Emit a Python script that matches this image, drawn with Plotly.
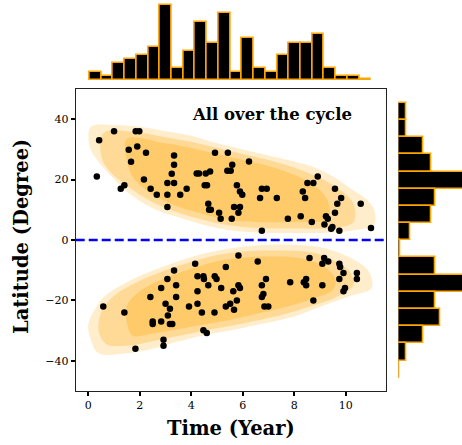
import numpy as np
import plotly.graph_objects as go

# ---- black events (time in years, latitude in degrees) ----
north_time = [1.00, 1.84, 1.98, 0.42, 1.90, 1.57, 2.24, 3.33, 1.66, 3.33, 4.92, 5.42, 5.59, 0.33,
              4.21, 4.30, 4.73, 4.56, 3.24, 5.40, 5.53, 2.16, 3.07, 3.33, 1.40, 1.26, 2.42, 4.52,
              4.61, 2.66, 3.07, 3.57, 3.82, 4.66, 4.69, 4.76, 3.07, 5.08, 5.14, 5.57,
              6.24, 8.91, 8.51, 8.74, 5.77, 5.89, 5.98, 6.74, 6.93, 9.58, 8.33, 8.42, 6.67, 7.32,
              9.82, 9.67, 10.58, 5.66, 5.89, 5.83, 9.58, 7.75, 8.25, 8.68, 9.23, 9.30, 9.17, 9.43,
              9.48, 9.75, 10.98, 6.74]
north_lat = [36.0, 36.0, 36.0, 33.0, 31.0, 29.9, 28.9, 28.0, 25.9, 24.9, 28.9, 28.9, 24.9, 21.0,
             22.0, 22.0, 22.7, 22.0, 21.9, 22.9, 22.9, 20.0, 18.9, 18.9, 18.1, 17.0, 17.0, 18.1,
             18.1, 15.0, 15.0, 15.0, 17.0, 12.0, 10.0, 10.0, 10.9, 9.0, 7.0, 7.0,
             26.0, 21.0, 18.9, 18.9, 18.1, 16.1, 15.0, 17.0, 17.0, 17.0, 16.1, 13.9, 13.9, 13.9,
             13.9, 12.0, 12.0, 10.9, 10.9, 9.0, 9.0, 7.0, 7.9, 6.0, 7.9, 7.0, 5.1, 3.7,
             4.3, 3.1, 4.0, 3.1]
south_time = [0.58, 1.40, 1.83, 3.33, 4.15, 5.34, 3.07, 4.24, 4.47, 4.49, 4.91, 4.98, 3.41, 4.66,
              2.83, 5.16, 4.24, 5.63, 2.41, 3.41, 4.24, 3.00, 5.34, 5.51, 3.91, 3.17, 5.66, 3.09,
              4.41, 4.90, 2.50, 2.50, 2.83, 3.17, 3.26, 4.47, 4.60, 2.92, 2.92,
              5.83, 6.58, 8.59, 9.16, 9.32, 9.09, 9.75, 9.78, 10.43, 10.43, 9.91, 9.75, 6.90, 8.46,
              8.37, 8.46, 7.84, 6.74, 5.83, 5.89, 9.09, 9.97, 9.91, 6.80, 6.74, 5.77, 8.74, 6.84,
              6.99]
south_lat = [-22.0, -24.0, -36.0, -10.1, -7.9, -8.9, -12.9, -12.0, -12.0, -12.9, -12.0, -12.9, -15.0, -15.0,
             -15.9, -15.9, -17.0, -17.0, -18.9, -18.9, -21.1, -21.1, -22.0, -21.1, -22.0, -22.8, -23.1, -25.0,
             -24.0, -24.0, -27.0, -27.8, -27.0, -27.8, -27.8, -29.9, -30.8, -33.0, -35.0,
             -5.1, -7.1, -6.0, -6.0, -7.1, -7.9, -7.9, -8.9, -10.9, -12.9, -10.9, -12.9, -12.9, -12.9,
             -14.0, -15.0, -14.0, -15.0, -15.0, -15.9, -15.0, -15.9, -17.0, -17.9, -18.9, -20.0, -20.0, -22.0,
             -22.0]

# ---- marginal histograms ----
time_counts = [2, 1, 4, 5, 6, 8, 18, 3, 7, 14, 9, 16, 2, 10, 3, 2, 6, 9, 9, 11, 3, 1, 1, 0.15]
time_bin_span = (0.053, 10.98)
lat_counts = [2, 2, 6, 8, 16, 9, 8, 3, 0.4, 9, 16, 9, 10, 6, 2, 0.3]   # from north to south
lat_bin_span = (45.4, -45.6)

# ---- background population envelopes (outer fringe, middle, dense core) ----
north_outer_t = [0.1, 1.0, 2.0, 3.0, 4.0, 5.0, 6.0, 7.0, 8.0, 8.8, 9.5, 10.2, 10.8, 11.1, 11.1,
                 10.5, 9.5, 8.0, 6.5, 5.5, 4.5, 3.5, 2.5, 1.5, 0.8, 0.3, 0.05]
north_outer_lat = [37.5, 38.0, 37.5, 36.0, 34.5, 32.0, 30.0, 28.0, 26.0, 24.0, 21.0, 17.0, 13.5, 10.0, 5.0,
                   3.5, 2.5, 2.3, 2.5, 3.2, 5.0, 7.5, 10.5, 16.0, 22.0, 27.0, 31.0]
north_mid_t = [0.6, 2.0, 3.0, 4.0, 5.0, 6.0, 7.0, 8.0, 9.0, 9.8, 10.3, 10.3,
               9.5, 8.0, 6.5, 5.5, 4.5, 3.5, 2.5, 1.5, 0.8, 0.5]
north_mid_lat = [35.5, 35.5, 34.0, 32.5, 30.5, 28.5, 26.5, 24.0, 20.5, 16.5, 12.0, 6.0,
                 4.0, 3.8, 4.0, 4.8, 6.5, 9.0, 12.5, 18.0, 23.0, 28.0]
north_core_t = [1.5, 3.0, 4.0, 5.0, 6.0, 7.0, 8.0, 8.8, 9.3, 9.3,
                8.0, 6.5, 5.5, 4.5, 3.5, 2.5, 1.8, 1.5]
north_core_lat = [33.5, 32.0, 30.5, 28.5, 26.5, 24.5, 21.5, 18.0, 13.0, 7.0,
                  6.0, 6.0, 6.5, 8.5, 11.0, 15.0, 20.0, 26.0]

south_outer_t = [0.0, 0.4, 0.8, 1.5, 2.1, 3.0, 3.5, 4.5, 5.5, 6.5, 8.0, 9.2, 10.2, 10.9, 11.0,
                 10.2, 9.2, 8.0, 6.6, 5.5, 4.5, 3.4, 2.5, 1.5, 0.4, 0.1]
south_outer_lat = [-28.0, -21.0, -17.5, -14.0, -11.5, -8.5, -7.0, -4.5, -2.8, -1.8, -1.6, -2.7, -6.0, -10.5, -16.0,
                   -18.5, -21.5, -25.3, -28.0, -30.0, -31.5, -33.8, -36.0, -37.5, -37.5, -33.0]
south_mid_t = [0.5, 1.0, 2.0, 3.0, 4.0, 5.0, 6.0, 7.5, 8.8, 9.6, 10.2, 10.3,
               9.6, 8.8, 7.5, 6.5, 5.5, 4.5, 3.5, 2.5, 1.5, 0.7, 0.4]
south_mid_lat = [-24.0, -18.5, -13.5, -10.0, -7.3, -5.0, -3.8, -3.5, -4.3, -7.0, -11.0, -15.0,
                 -19.0, -21.5, -24.8, -26.7, -28.5, -30.0, -31.8, -33.5, -35.0, -34.5, -30.0]
south_core_t = [1.5, 2.0, 3.0, 4.0, 5.0, 6.0, 7.5, 8.5, 9.2, 9.6, 9.5,
                8.7, 7.5, 6.5, 5.5, 4.5, 3.5, 2.5, 1.7]
south_core_lat = [-22.0, -17.0, -12.5, -9.5, -7.0, -5.8, -5.5, -6.5, -9.0, -13.0, -16.5,
                  -19.5, -22.5, -24.5, -26.5, -28.0, -29.5, -31.0, -31.5]

SERIF = "DejaVu Serif"
ORANGE = "#FFA500"

fig = go.Figure()

# population clouds
for t, lat, alpha in [
    (north_outer_t, north_outer_lat, 0.20), (north_mid_t, north_mid_lat, 0.26), (north_core_t, north_core_lat, 0.30),
    (south_outer_t, south_outer_lat, 0.20), (south_mid_t, south_mid_lat, 0.26), (south_core_t, south_core_lat, 0.30),
]:
    fig.add_trace(go.Scatter(
        x=t + t[:1], y=lat + lat[:1], mode="lines", fill="toself",
        fillcolor=f"rgba(255,165,0,{alpha})", line=dict(width=0), line_shape="spline",
        hoverinfo="skip", showlegend=False, xaxis="x", yaxis="y"))

# black events
fig.add_trace(go.Scatter(
    x=north_time + south_time, y=north_lat + south_lat, mode="markers",
    marker=dict(color="black", size=6.5, line=dict(width=0)),
    showlegend=False, xaxis="x", yaxis="y"))

# equator
fig.add_shape(type="line", xref="x domain", yref="y", x0=0, x1=1, y0=0, y1=0,
              line=dict(color="#0000FF", width=2.5, dash="9px,4px"))

# top histogram (time)
t_edges = np.linspace(time_bin_span[0], time_bin_span[1], len(time_counts) + 1)
fig.add_trace(go.Bar(
    x=(t_edges[:-1] + t_edges[1:]) / 2, y=time_counts, width=np.diff(t_edges),
    marker=dict(color="black", line=dict(color=ORANGE, width=1.6)),
    showlegend=False, xaxis="x2", yaxis="y2"))

# right histogram (latitude)
l_edges = np.linspace(lat_bin_span[0], lat_bin_span[1], len(lat_counts) + 1)
fig.add_trace(go.Bar(
    y=(l_edges[:-1] + l_edges[1:]) / 2, x=lat_counts, width=np.abs(np.diff(l_edges)),
    orientation="h",
    marker=dict(color="black", line=dict(color=ORANGE, width=1.6)),
    showlegend=False, xaxis="x3", yaxis="y3"))

main_x = [75.7 / 462, 385.7 / 462]
main_y = [(445 - 391) / 445, (445 - 89) / 445]
tickfont = dict(family=SERIF, size=11, color="black")

fig.update_layout(
    width=462, height=445, margin=dict(l=0, r=0, t=0, b=0),
    paper_bgcolor="white", plot_bgcolor="white", bargap=0,
    xaxis=dict(domain=main_x, range=[-0.49, 11.55], tickvals=[0, 2, 4, 6, 8, 10],
               ticks="outside", ticklen=4, tickwidth=1.6, tickcolor="black",
               showline=True, linecolor="#222", linewidth=1.2, mirror=True,
               showgrid=False, zeroline=False, tickfont=tickfont),
    yaxis=dict(domain=main_y, range=[-50, 50], tickvals=[-40, -20, 0, 20, 40],
               ticks="outside", ticklen=4, tickwidth=1.6, tickcolor="black",
               showline=True, linecolor="#222", linewidth=1.2, mirror=True,
               showgrid=False, zeroline=False, tickfont=tickfont),
    xaxis2=dict(domain=main_x, anchor="y2", matches="x", visible=False),
    yaxis2=dict(domain=[(445 - 80) / 445, 1.0], anchor="x2", range=[0, 19.2], visible=False),
    xaxis3=dict(domain=[398.3 / 462, 1.0], anchor="y3", range=[0, 15.3], visible=False),
    yaxis3=dict(domain=main_y, anchor="x3", matches="y", visible=False),
    annotations=[
        dict(text="<b>All over the cycle</b>", x=272.3 / 462, y=(445 - 115) / 445,
             xref="paper", yref="paper", showarrow=False, xanchor="center", yanchor="middle",
             font=dict(family=SERIF, size=16.5, color="black")),
        dict(text="<b>Time (Year)</b>", x=231 / 462, y=(445 - 428) / 445,
             xref="paper", yref="paper", showarrow=False, xanchor="center", yanchor="middle",
             font=dict(family=SERIF, size=19.5, color="black")),
        dict(text="<b>Latitude (Degree)</b>", x=22 / 462, y=(445 - 237) / 445,
             xref="paper", yref="paper", showarrow=False, textangle=-90,
             xanchor="center", yanchor="middle",
             font=dict(family=SERIF, size=19.5, color="black")),
    ],
)

fig.write_html("out.html")
